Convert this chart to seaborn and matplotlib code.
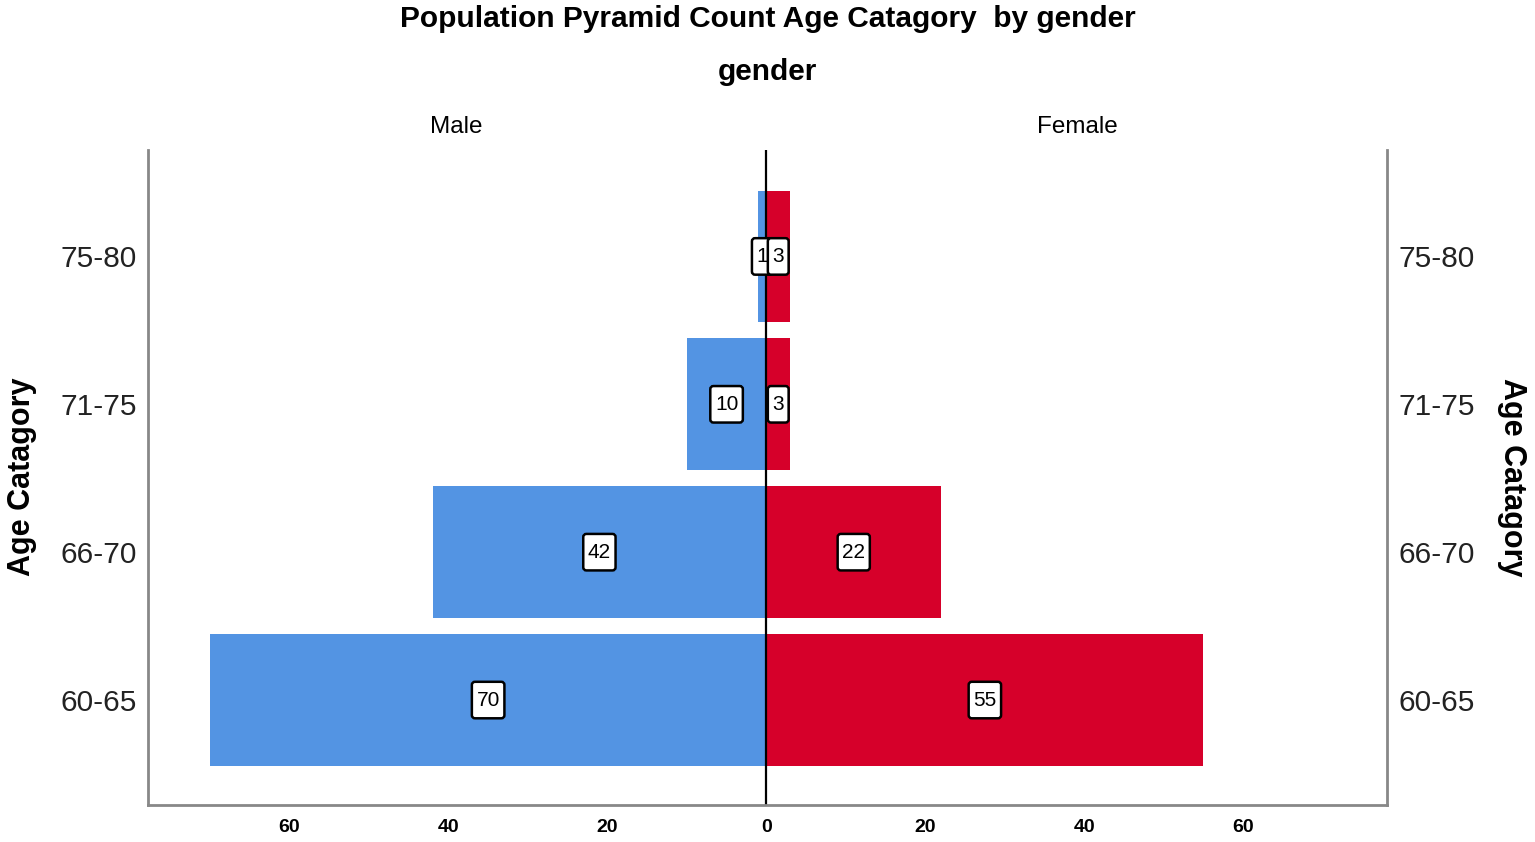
import pandas as pd
import seaborn as sns
import matplotlib.pyplot as plt
from matplotlib.patches import BoxStyle

age_groups = ['75-80', '71-75', '66-70', '60-65']
male_counts = [1, 10, 42, 70]
female_counts = [3, 3, 22, 55]
tick_vals = [-60, -40, -20, 0, 20, 40, 60]
tick_labels = ['60', '40', '20', '0', '20', '40', '60']

df = pd.DataFrame({
    'age': age_groups * 2,
    'gender': ['Male'] * 4 + ['Female'] * 4,
    'count': [-v for v in male_counts] + female_counts,
})

sns.set_style('white')
plt.rcParams['font.family'] = ['Liberation Sans', 'DejaVu Sans']
plt.rcParams['text.color'] = 'black'


# label box taller than wide, like the SPSS data labels
def tall_box(x0, y0, width, height, mutation_size):
    padx = 0.22 * mutation_size
    pady = 0.42 * mutation_size
    return BoxStyle.Round(pad=0, rounding_size=0.15)(
        x0 - padx, y0 - pady, width + 2 * padx, height + 2 * pady, mutation_size)


fig = plt.figure(figsize=(15.35, 8.42), dpi=100)
ax = fig.add_axes([0.0964, 0.0439, 0.8072, 0.778])

sns.barplot(data=df, y='age', x='count', hue='gender', order=age_groups,
            palette={'Male': '#5394E3', 'Female': '#D6002A'}, saturation=1,
            dodge=False, width=0.89, orient='h', legend=False, ax=ax,
            linewidth=0)

# value boxes in the middle of each bar
for i, a in enumerate(age_groups):
    for v in [-male_counts[i], female_counts[i]]:
        ax.text(v / 2, i, str(abs(v)), ha='center', va='center', fontsize=15,
                bbox=dict(boxstyle=tall_box, fc='white', ec='black', lw=1.8))

ax.axvline(0, color='black', lw=1.6)
ax.set_xlim(-77.8, 78.1)
ax.set_ylim(3.71, -0.72)
ax.set_xticks(tick_vals)
ax.set_xticklabels(tick_labels, fontsize=14, fontweight='bold')
ax.tick_params(axis='y', labelsize=21.5, labelright=True, colors='#222222', length=0, pad=8)
ax.tick_params(axis='x', length=0, pad=10, colors='black')
ax.set_xlabel('')
ax.set_ylabel('')

for s in ['left', 'right', 'bottom']:
    ax.spines[s].set_color('#888888')
    ax.spines[s].set_linewidth(2)
ax.spines['top'].set_visible(False)

fig.text(0.0145, 0.4335, 'Age Catagory', rotation=90, ha='center', va='center',
         fontsize=22, fontweight='bold')
fig.text(0.985, 0.4335, 'Age Catagory', rotation=-90, ha='center', va='center',
         fontsize=22, fontweight='bold')

fig.text(0.5, 0.977, 'Population Pyramid Count Age Catagory  by gender', ha='center',
         va='center', fontsize=21.5, fontweight='bold')
fig.text(0.5, 0.915, 'gender', ha='center', va='center', fontsize=21.5, fontweight='bold')
fig.text(456 / 1535, 1 - 127 / 842, 'Male', ha='center', va='center', fontsize=17.5)
fig.text(1077 / 1535, 1 - 127 / 842, 'Female', ha='center', va='center', fontsize=17.5)

fig.savefig('out.png', dpi=100)
